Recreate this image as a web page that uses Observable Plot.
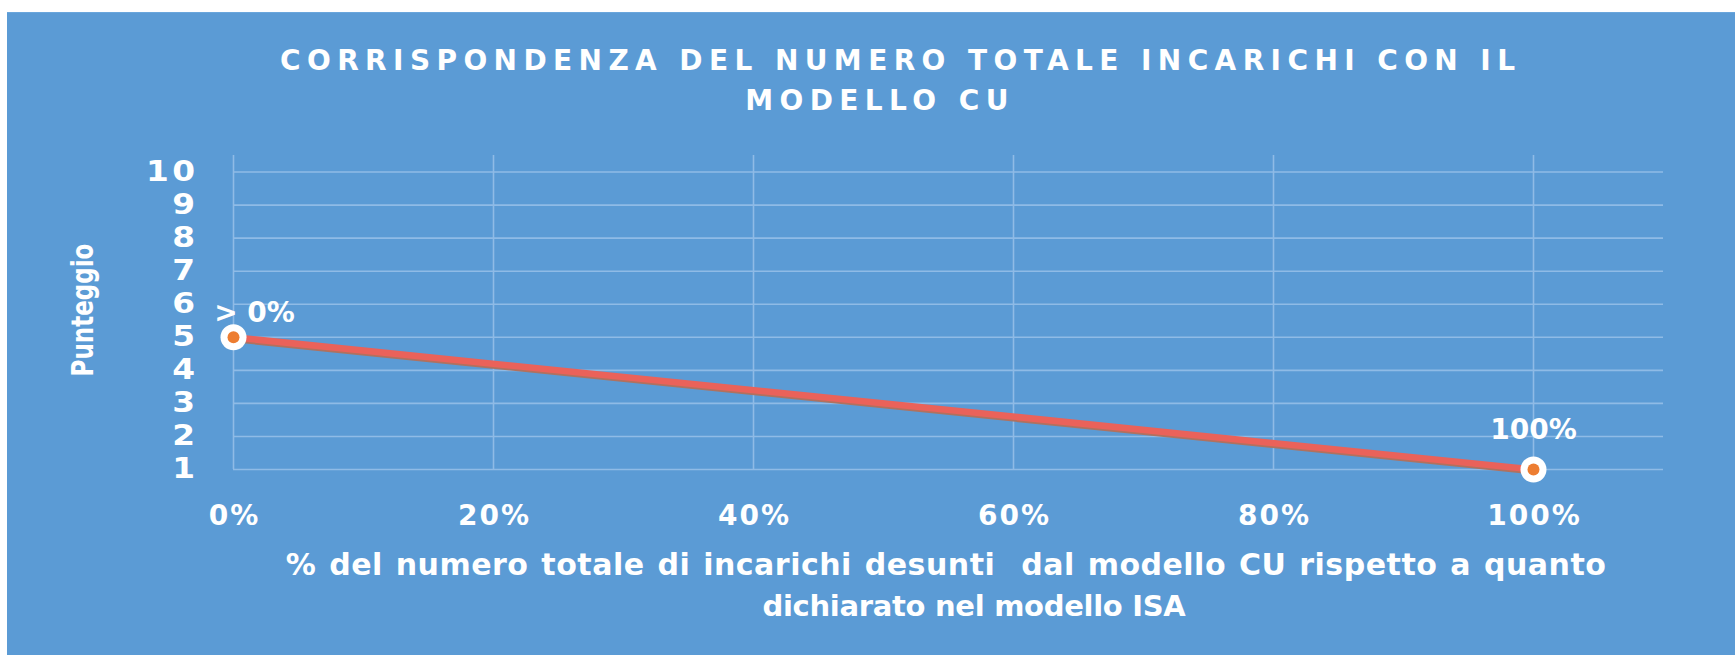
<!DOCTYPE html>
<html>
<head>
<meta charset="utf-8">
<script src="https://cdn.jsdelivr.net/npm/d3@7"></script>
<script src="https://cdn.jsdelivr.net/npm/@observablehq/plot@0.6"></script>
<style>
  html, body { margin: 0; padding: 0; background: #ffffff; }
  #wrap { position: relative; width: 1735px; height: 655px; overflow: hidden; }
  #panel { position: absolute; left: 7px; top: 12px; width: 1728px; height: 643px; background: #5B9BD5; border-top: 1px solid #6aa6dc; }
  .txt { position: absolute; color: #ffffff; white-space: pre; }
  #title { left: 280px; width: 1200px; top: 41px; text-align: center; font-family: "DejaVu Sans", sans-serif; font-weight: bold; font-size: 28px; letter-spacing: 6.4px; line-height: 40px; }
  #ytitle { left: 83px; top: 310px; font-family: "DejaVu Sans", sans-serif; font-weight: bold; font-size: 23px; transform: translate(-50%, -50%) rotate(-90deg) scale(1, 1.3); }
  .xt { font-family: "DejaVu Sans", sans-serif; font-weight: bold; transform: translate(-50%, -50%); }
  #chart { position: absolute; left: 0; top: 0; }
</style>
</head>
<body>
<div id="wrap">
  <div id="panel"></div>
  <div id="title" class="txt"></div>
  <div id="ytitle" class="txt"></div>
  <div id="xt1" class="txt xt" style="left:946px; top:564px; font-size:30px; letter-spacing:0.5px; word-spacing:2px;"></div>
  <div id="xt2" class="txt xt" style="left:974px; top:606px; font-size:29px; letter-spacing:-0.3px;"></div>
  <div id="chart"></div>
</div>
<script>
// ---- data ----
const titleLines = ["CORRISPONDENZA DEL NUMERO TOTALE INCARICHI CON IL", "MODELLO CU"];
const yLabel = "Punteggio";
const xLabelLines = ["% del numero totale di incarichi desunti  dal modello CU rispetto a quanto", "dichiarato nel modello ISA"];
const xValues = [0, 1];
const yValues = [5, 1];
const pointLabels = ["> 0%", "100%"];
const xTicks = [0, 0.2, 0.4, 0.6, 0.8, 1.0];
const yTicks = [1, 2, 3, 4, 5, 6, 7, 8, 9, 10];

document.getElementById("title").textContent = titleLines.join("\n");
document.getElementById("ytitle").textContent = yLabel;
document.getElementById("xt1").textContent = xLabelLines[0];
document.getElementById("xt2").textContent = xLabelLines[1];

const data = xValues.map((x, i) => ({x, y: yValues[i], label: pointLabels[i]}));

const gridColor = "#8fbbe6";
const tickFont = {fontFamily: "DejaVu Sans, sans-serif", fontWeight: "bold", fontSize: 28, fill: "#ffffff"};

const chart = Plot.plot({
  width: 1735,
  height: 655,
  marginLeft: 233,
  marginRight: 72,
  marginTop: 155,
  marginBottom: 186,
  style: {background: "transparent", overflow: "visible"},
  x: {domain: [0, 1.1]},
  y: {domain: [1, 10.5]},
  marks: [
    Plot.ruleY(yTicks, {y: d => d, x1: 0, x2: 1.1, stroke: gridColor, strokeWidth: 1.6}),
    Plot.ruleX(xTicks, {x: d => d, y1: 1, y2: 10.5, stroke: gridColor, strokeWidth: 1.6}),
    Plot.axisY(yTicks, {tickSize: 0, tickPadding: 35, label: null, tickFormat: d => String(d), ...tickFont}),
    Plot.axisX(xTicks, {tickSize: 0, tickPadding: 36, label: null, tickFormat: d => Math.round(d * 100) + "%", ...tickFont, dx: 1}),
    Plot.line(data, {x: "x", y: "y", stroke: "#b0715f", strokeWidth: 7, dy: 1.5}),
    Plot.line(data, {x: "x", y: "y", stroke: "#ea625a", strokeWidth: 6.5}),
    Plot.dot(data, {x: "x", y: "y", r: 13, fill: "#ffffff", stroke: "none"}),
    Plot.dot(data, {x: "x", y: "y", r: 6, fill: "#ED7D31", stroke: "none"}),
    Plot.text(data.filter(d => d.x === 0), {x: "x", y: "y", text: "label", dx: 21, dy: -24, ...tickFont, ariaLabel: "plabel0"}),
    Plot.text(data.filter(d => d.x === 1), {x: "x", y: "y", text: "label", dx: 0, dy: -39, ...tickFont, ariaLabel: "plabel1"})
  ]
});
chart.querySelectorAll('g[aria-label="y-axis tick label"] text').forEach(t => {
  t.style.letterSpacing = "3px";
  const ax = +t.getAttribute("x") || 0;
  const tr = t.getAttribute("transform") || "";
  t.setAttribute("transform", `${tr} translate(${ax},0) scale(1.17,1) translate(${-ax},0)`.trim());
});
chart.querySelectorAll('g[aria-label="x-axis tick label"] text').forEach(t => t.style.letterSpacing = "2px");
chart.querySelectorAll('g[aria-label="plabel0"] text').forEach(t => t.style.letterSpacing = "3px");
chart.querySelectorAll('g[aria-label="plabel1"] text').forEach(t => t.style.letterSpacing = "4.5px");
document.getElementById("chart").appendChild(chart);
</script>
</body>
</html>
